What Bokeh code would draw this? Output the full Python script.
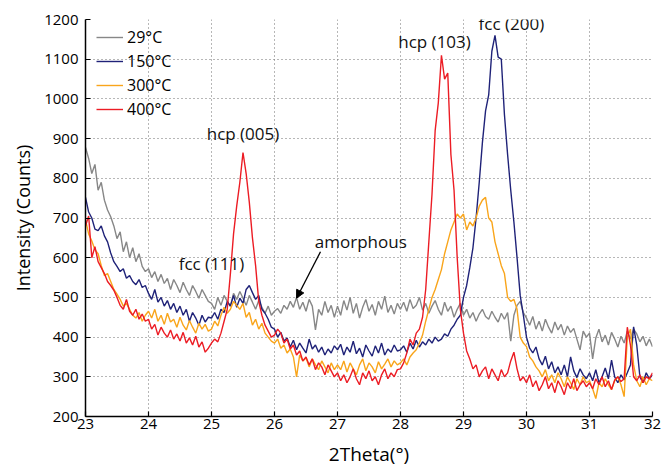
from bokeh.plotting import figure
from bokeh.models import ColumnDataSource, FixedTicker, Legend, LegendItem, Arrow, NormalHead
from bokeh.core.properties import value
from bokeh.embed import file_html
from bokeh.resources import INLINE

# ---- data ----
X_START = 23.0
X_STEP = 0.05
N_POINTS = 181
two_theta = [round(X_START + X_STEP * i, 2) for i in range(N_POINTS)]

gray_29 = [
    878, 850, 812, 835, 770, 790, 745, 720, 703, 680, 648, 665, 615, 640, 600, 625, 590, 610, 578, 565,
    572, 550, 565, 540, 558, 535, 548, 520, 545, 530, 512, 538, 520, 505, 530, 515, 498, 520, 505, 490,
    485, 470, 500, 480, 505, 490, 478, 510, 495, 515, 498, 480, 505, 488, 470, 492, 475, 460, 478, 455,
    465, 472, 460, 480, 470, 490, 475, 500, 470, 488, 465, 495, 478, 418, 470, 455, 490, 462, 480, 450,
    478, 455, 492, 468, 500, 460, 485, 448, 475, 495, 465, 482, 455, 490, 470, 503, 462, 480, 458, 485,
    470, 488, 465, 495, 472, 480, 500, 468, 485, 460, 478, 492, 470, 455, 488, 465, 478, 450, 470, 485,
    455, 470, 448, 462, 440, 458, 470, 452, 445, 465, 450, 438, 460, 445, 462, 390, 455, 480, 490, 462,
    448, 430, 452, 420, 440, 415, 445, 425, 410, 438, 418, 432, 405, 428, 412, 422, 395, 368, 415, 400,
    410, 345, 398, 420, 388, 405, 380, 412, 395, 375, 402, 385, 415, 395, 420, 408, 388, 402, 378, 395,
    376,
]

blue_150 = [
    752, 715, 700, 672, 668, 680, 655, 640, 612, 590, 578, 565, 572, 548, 555, 540, 532, 545, 525, 530,
    510, 495, 520, 488, 500, 478, 492, 470, 485, 462, 478, 455, 470, 440, 462, 448, 430, 455, 438, 450,
    448, 462, 445, 470, 462, 490, 478, 505, 475, 498, 485, 520, 530, 512, 495, 505, 470, 460, 445, 425,
    420, 400, 412, 390, 398, 375, 392, 368, 385, 372, 360, 395, 370, 380, 362, 375, 355, 370, 360, 378,
    368, 382, 355, 375, 362, 390, 358, 372, 350, 380, 365, 352, 378, 360, 385, 355, 370, 362, 380, 365,
    368, 378, 362, 385, 370, 392, 375, 388, 380, 395, 385, 400, 390, 395, 408, 402, 420, 430, 445, 455,
    500, 530, 575, 625, 700, 790, 890, 970, 1010, 1120, 1160, 1105, 1100, 960, 860, 770, 690, 600, 505, 455,
    400, 372, 360, 375, 345, 330, 352, 320, 338, 310, 325, 305, 330, 300, 350, 315, 298, 320, 305, 295,
    310, 290, 318, 285, 300, 322, 295, 342, 300, 285, 305, 292, 310, 330, 426, 380, 300, 285, 310, 295,
    305,
]

orange_300 = [
    695, 660, 642, 620, 610, 580, 555, 560, 540, 520, 508, 495, 478, 485, 470, 455, 448, 462, 440, 455,
    465, 448, 470, 440, 455, 432, 460, 438, 445, 425, 450, 430, 418, 442, 425, 410, 435, 420, 432, 415,
    420, 440, 428, 455, 475, 460, 470, 490, 480, 470, 485, 450, 462, 430, 445, 420, 435, 410, 400, 390,
    385, 395, 372, 380, 360, 370, 350, 300, 355, 340, 348, 325, 345, 330, 318, 340, 325, 310, 335, 318,
    330, 318, 340, 312, 335, 320, 305, 330, 345, 315, 335, 325, 310, 338, 320, 332, 345, 325, 340, 330,
    335, 345, 330, 350, 360, 368, 385, 405, 440, 470, 500, 520, 545, 570, 610, 640, 670, 690, 710, 700,
    710, 670, 690, 680, 700, 730, 745, 752, 700, 690, 640, 610, 580, 560, 500, 490, 495, 470, 400, 385,
    376, 350, 340, 325, 315, 300, 318, 290, 305, 285, 310, 295, 275, 300, 285, 268, 295, 280, 300, 285,
    290, 270, 245, 285, 275, 295, 280, 268, 290, 300, 280, 250, 400, 420, 330, 290, 275, 300, 280, 295,
    290,
]

red_400 = [
    680, 705, 600, 628, 590, 575, 560, 540, 530, 518, 500, 480, 470, 495, 465, 455, 470, 445, 458, 440,
    445, 420, 432, 405, 425, 410, 400, 418, 395, 408, 390, 412, 385, 398, 380, 402, 375, 388, 362, 372,
    385, 395, 388, 410, 440, 470, 560, 660, 730, 790, 865, 812, 740, 650, 580, 490, 455, 430, 415, 400,
    405, 420, 410, 385, 395, 370, 380, 355, 365, 340, 350, 330, 345, 318, 335, 325, 305, 330, 315, 300,
    310, 290, 305, 285, 300, 320, 295, 280, 310, 295, 315, 290, 300, 280, 305, 320, 295, 310, 300, 318,
    320, 335, 360, 395, 380, 410, 420, 450, 520, 640, 760, 920, 990, 1110, 1050, 1065, 860, 770, 600, 470,
    410, 365, 345, 320, 330, 300, 315, 325, 295, 320, 305, 290, 318, 300, 310, 340, 362, 320, 290, 300,
    285, 305, 275, 290, 265, 280, 300, 270, 285, 260, 290, 275, 255, 285, 270, 295, 265, 280, 290, 275,
    285, 270, 295, 280, 300, 275, 290, 268, 292, 300, 288, 295, 425, 380, 300, 290, 305, 285, 300, 295,
    310,
]

series_labels = ["29\u00b0C", "150\u00b0C", "300\u00b0C", "400\u00b0C"]
series_colors = ["#878787", "#1f2278", "#f9a51b", "#ec1c24"]

x_ticks = [23, 24, 25, 26, 27, 28, 29, 30, 31, 32]
y_ticks = [200, 300, 400, 500, 600, 700, 800, 900, 1000, 1100, 1200]

annot_text = ["hcp (005)", "fcc (111)", "amorphous", "hcp (103)", "fcc (200)"]
annot_x = [25.50, 25.00, 27.37, 28.54, 29.76]
annot_y = [914, 586, 642, 1144, 1189]

arrow_start = (26.73, 615)
arrow_end = (26.35, 498)

FONT = "Open Sans"

# ---- figure ----
p = figure(
    width=670, height=470,
    x_range=(23, 32), y_range=(200, 1200),
    output_backend="svg", toolbar_location=None,
    min_border_left=85, min_border_right=18, min_border_top=19, min_border_bottom=54,
)
p.outline_line_color = None
p.background_fill_color = "white"

for ax in (p.xaxis[0], p.yaxis[0]):
    ax.axis_line_color = "black"
    ax.axis_line_width = 1.5
    ax.major_tick_in = 5
    ax.major_tick_out = 0
    ax.major_tick_line_color = "black"
    ax.major_tick_line_width = 1.2
    ax.minor_tick_line_color = None
    ax.major_label_text_font = FONT
    ax.major_label_text_font_size = "15px"
    ax.major_label_text_color = "black"
    ax.axis_label_text_font = FONT
    ax.axis_label_text_font_style = "normal"
    ax.axis_label_text_color = "black"

p.xaxis.ticker = FixedTicker(ticks=x_ticks)
p.yaxis.ticker = FixedTicker(ticks=y_ticks)
p.xaxis.axis_label = "2Theta(\u00b0)"
p.yaxis.axis_label = "Intensity (Counts)"
p.xaxis.axis_label_text_font_size = "19px"
p.yaxis.axis_label_text_font_size = "18px"
p.xaxis.major_label_standoff = 2
p.xaxis.axis_label_standoff = 9
p.yaxis.major_label_standoff = 7
p.yaxis.axis_label_standoff = 6

for g in (p.xgrid[0], p.ygrid[0]):
    g.grid_line_color = "#6e6e6e"
    g.grid_line_dash = "1 3"
    g.grid_line_width = 1

series_values = [gray_29, blue_150, orange_300, red_400]
items = []
for lab, col, vals in zip(series_labels, series_colors, series_values):
    src = ColumnDataSource(dict(x=two_theta, y=vals))
    r = p.line("x", "y", source=src, line_color=col, line_width=1.4)
    items.append(LegendItem(label=lab, renderers=[r]))

legend = Legend(
    items=items,
    location=(11, 295),
    glyph_width=27, glyph_height=24, label_height=24,
    label_standoff=4, spacing=0, padding=0, margin=0,
    label_text_font=FONT, label_text_font_size="16px", label_text_color="black",
    background_fill_alpha=0, border_line_color=None,
)
p.add_layout(legend)

ann_src = ColumnDataSource(dict(x=annot_x, y=annot_y, t=annot_text))
p.text("x", "y", text="t", source=ann_src, text_font=value(FONT), text_font_size="17px",
       text_align="center", text_baseline="middle", text_color="#111111")

p.add_layout(Arrow(
    end=NormalHead(size=8, fill_color="black", line_color="black"),
    x_start=arrow_start[0], y_start=arrow_start[1],
    x_end=arrow_end[0], y_end=arrow_end[1],
    line_color="black", line_width=1.3,
))

open("out.html", "w").write(file_html(p, INLINE))
